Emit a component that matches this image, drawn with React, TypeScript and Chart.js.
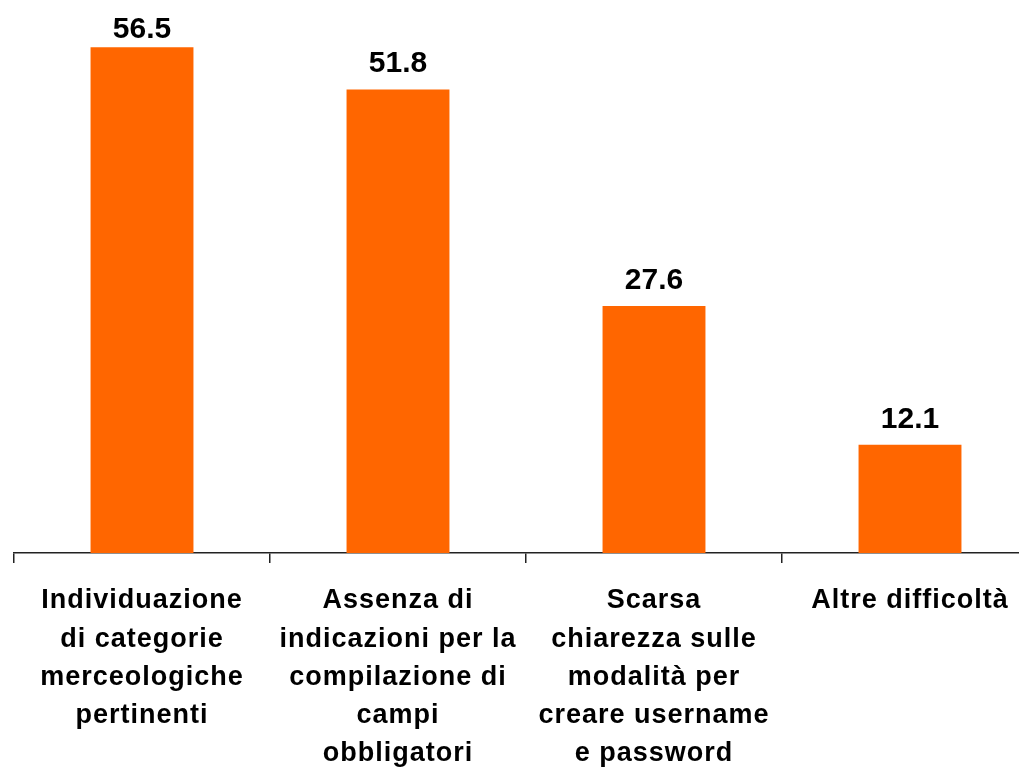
import React, { useEffect, useRef } from "react";
import { Chart, registerables } from "chart.js";

Chart.register(...registerables);

const categories: string[][] = [
  ["Individuazione", "di categorie", "merceologiche", "pertinenti"],
  ["Assenza di", "indicazioni per la", "compilazione di", "campi", "obbligatori"],
  ["Scarsa", "chiarezza sulle", "modalità per", "creare username", "e password"],
  ["Altre difficoltà"],
];
const values: number[] = [56.5, 51.8, 27.6, 12.1];
const valueLabels: string[] = ["56.5", "51.8", "27.6", "12.1"];

const FONT = "'Liberation Sans', Arial, Helvetica, sans-serif";

export default function App() {
  const ref = useRef<HTMLCanvasElement | null>(null);

  useEffect(() => {
    if (!ref.current) return;
    const spacingPlugin = {
      id: "spacing",
      beforeDraw(chart: any) {
        (chart.ctx as any).letterSpacing = "1px";
      },
    };
    const valuePlugin = {
      id: "values",
      afterDatasetsDraw(chart: any) {
        const ctx = chart.ctx;
        const meta = chart.getDatasetMeta(0);
        ctx.save();
        (ctx as any).letterSpacing = "0px";
        ctx.font = `bold 30px ${FONT}`;
        ctx.fillStyle = "#000";
        ctx.textAlign = "center";
        ctx.textBaseline = "alphabetic";
        meta.data.forEach((bar: any, i: number) => {
          let y = bar.y - 17;
          if (y < 38) y = 38;
          ctx.fillText(valueLabels[i], bar.x, y);
        });
        ctx.restore();
      },
    };
    const chart = new Chart(ref.current, {
      type: "bar",
      data: {
        labels: categories,
        datasets: [
          {
            data: values,
            backgroundColor: "#FF6600",
            borderWidth: 0,
            barPercentage: 0.402,
            categoryPercentage: 1,
          },
        ],
      },
      options: {
        animation: false,
        responsive: false,
        maintainAspectRatio: false,
        layout: { padding: { left: 14, right: 14, top: 16, bottom: 0 } },
        plugins: { legend: { display: false }, tooltip: { enabled: false } },
        scales: {
          y: { display: false, min: 0, max: 60 },
          x: {
            offset: true,
            border: { display: true, color: "#222", width: 1.5 },
            grid: {
              offset: true,
              drawOnChartArea: false,
              drawTicks: true,
              tickLength: 10,
              color: "#222",
              lineWidth: 1.5,
            },
            ticks: {
              autoSkip: false,
              maxRotation: 0,
              minRotation: 0,
              padding: 19,
              color: "#000",
              font: { family: FONT, size: 27, weight: "bold", lineHeight: 1.41 },
            },
            afterFit(scale: any) {
              scale.height = 218;
            },
          },
        },
      },
      plugins: [spacingPlugin, valuePlugin],
    });
    return () => chart.destroy();
  }, []);

  return (
    <div
      style={{
        position: "fixed",
        left: 0,
        top: 0,
        width: 1019,
        height: 771,
        overflow: "hidden",
        background: "#fff",
      }}
    >
      <canvas ref={ref} width={1052} height={771} style={{ display: "block", width: 1052, height: 771 }} />
    </div>
  );
}
